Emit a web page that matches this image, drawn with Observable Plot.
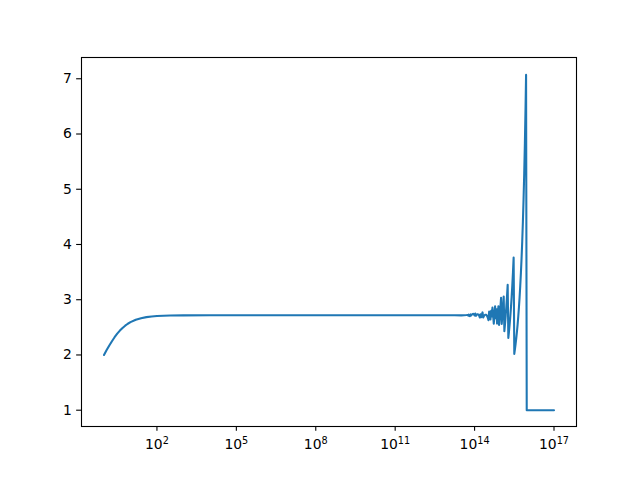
<!DOCTYPE html>
<html><head><meta charset="utf-8">
<script src="https://cdn.jsdelivr.net/npm/d3@7"></script>
<script src="https://cdn.jsdelivr.net/npm/@observablehq/plot@0.6"></script>
<style>body{margin:0;background:#fff}</style>
</head><body><div id="chart"></div>
<script>
// log10(n) exponents of the sampled points
const logN = [
  0, 0.1, 0.2, 0.3, 0.4, 0.5, 0.6, 0.7, 0.8, 0.9, 1.0, 1.2, 1.4, 1.6, 1.8, 2.0, 2.5, 3, 4, 5, 13.0, 13.25, 13.5,
  13.700, 13.725, 13.750, 13.775, 13.800, 13.825, 13.850, 13.875, 13.900, 13.925, 13.950, 13.975,
  14.000, 14.025, 14.050, 14.075, 14.100, 14.125, 14.150, 14.175, 14.200, 14.225, 14.250, 14.275,
  14.300, 14.325, 14.350, 14.375, 14.400, 14.425, 14.450, 14.475, 14.500, 14.525, 14.550, 14.575,
  14.600, 14.625, 14.650, 14.675, 14.700, 14.725, 14.750, 14.775, 14.800, 14.825, 14.850, 14.875,
  14.900, 14.925, 14.950, 14.975, 15.000, 15.025, 15.050, 15.075, 15.100, 15.125, 15.150, 15.175,
  15.200, 15.225, 15.250, 15.275, 15.300, 15.325, 15.350, 15.375, 15.400, 15.425, 15.450, 15.475,
  15.500, 15.525, 15.550, 15.575, 15.600, 15.625, 15.650, 15.675, 15.700, 15.725, 15.750, 15.775,
  15.800, 15.825, 15.850, 15.875, 15.900, 15.925, 15.945, 15.970, 17
];
// (1 + 1/n)^n as plotted
const values = [
  2.000, 2.088, 2.171, 2.249, 2.321, 2.385, 2.441, 2.489, 2.530, 2.565, 2.594, 2.637, 2.666, 2.685, 2.697, 2.705, 2.714, 2.717, 2.718, 2.718, 2.718, 2.719, 2.717,
  2.7225, 2.7237, 2.7152, 2.7323, 2.7038, 2.7030, 2.7350, 2.7156, 2.7327, 2.7427, 2.7436, 2.7348,
  2.7161, 2.7490, 2.7088, 2.7262, 2.7358, 2.7368, 2.7285, 2.7093, 2.6781, 2.7355, 2.6829, 2.7285,
  2.7706, 2.6790, 2.7021, 2.7197, 2.7289, 2.7295, 2.7217, 2.7028, 2.6725, 2.6298, 2.7849, 2.7222,
  2.6440, 2.8010, 2.6963, 2.8594, 2.7226, 2.5679, 2.7153, 2.8808, 2.6663, 2.8261, 2.5682, 2.7156,
  2.8811, 2.5453, 2.6899, 2.8519, 3.0351, 2.5618, 2.7088, 2.8740, 3.0596, 2.4312, 2.5626, 2.7093,
  2.8740, 3.0596, 3.2694, 2.3082, 2.4256, 2.5564, 2.7025, 2.8666, 3.0511, 3.2593, 3.4960, 3.7648,
  2.0180, 2.1040, 2.1986, 2.3037, 2.4205, 2.5506, 2.6963, 2.8594, 3.0429, 3.2503, 3.4855, 3.7531,
  4.0592, 4.4110, 4.8167, 5.2859, 5.8336, 6.4781, 7.07, 1, 1
];
const xTickExponents = [2, 5, 8, 11, 14, 17];
const yTicks = [1, 2, 3, 4, 5, 6, 7];

const data = logN.map((t, i) => ({n: 10 ** t, v: values[i]}));
const fmt = d => "10^" + Math.round(Math.log10(d));

const chart = Plot.plot({
  width: 640, height: 478,
  marginLeft: 81, marginRight: 64, marginTop: 57, marginBottom: 52,
  style: {fontFamily: "DejaVu Sans", fontSize: "13.9px", color: "#000", background: "#fff"},
  x: {type: "log", domain: [10 ** -0.85, 10 ** 17.85], label: null},
  y: {domain: [0.705, 7.385], label: null},
  marks: [
    Plot.line(data, {x: "n", y: "v", stroke: "#1f77b4", strokeWidth: 2.08}),
    Plot.frame({stroke: "#000", strokeWidth: 1.1}),
    Plot.axisX({ticks: xTickExponents.map(e => 10 ** e), tickFormat: fmt, tickSize: 4.86, tickPadding: 7.8, fontSize: 13.9, strokeWidth: 1.1, label: null}),
    Plot.axisY({ticks: yTicks, tickFormat: d => String(d), tickSize: 4.86, tickPadding: 4.86, fontSize: 13.9, strokeWidth: 1.1, label: null})
  ]
});
// turn "10^k" tick labels into 10 with a raised exponent
chart.querySelectorAll('g[aria-label="x-axis tick label"] text').forEach(t => {
  const [base, exp] = t.textContent.split("^");
  t.textContent = "";
  const ns = "http://www.w3.org/2000/svg";
  const b = document.createElementNS(ns, "tspan");
  b.textContent = base;
  const s = document.createElementNS(ns, "tspan");
  s.textContent = exp;
  s.setAttribute("font-size", "9.7px");
  s.setAttribute("dy", "-5.2");
  t.appendChild(b);
  t.appendChild(s);
});
document.getElementById("chart").appendChild(chart);
</script>
</body></html>
